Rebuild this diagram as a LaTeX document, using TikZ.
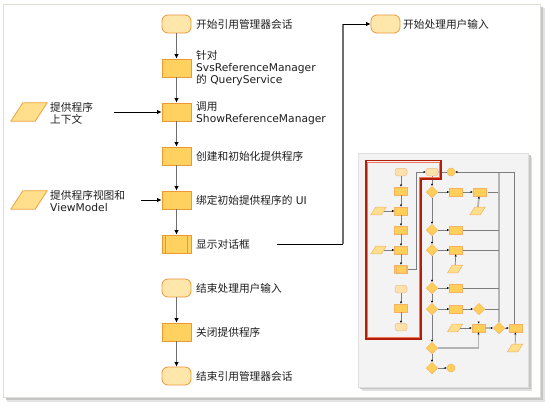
\documentclass[tikz,border=0pt]{standalone}
\usepackage{fontspec}
\setmainfont{DejaVu Sans}
\newfontfamily\zhfont{Noto Sans CJK SC}
\usetikzlibrary{arrows.meta,shapes.geometric,calc}

\definecolor{boxfill}{RGB}{255,210,95}
\definecolor{boxline}{RGB}{238,152,52}
\definecolor{termfill}{RGB}{255,231,172}
\definecolor{termline}{RGB}{236,150,60}
\definecolor{datafill}{RGB}{255,222,140}
\definecolor{dataline}{RGB}{238,162,62}
\definecolor{flowgray}{RGB}{110,110,110}
\definecolor{txtcol}{RGB}{30,30,30}
\definecolor{framecol}{RGB}{222,222,214}
\definecolor{panelfill}{RGB}{243,243,243}
\definecolor{selred}{RGB}{178,30,8}
\definecolor{selhalo}{RGB}{240,120,90}
\definecolor{tline}{RGB}{125,125,125}
\definecolor{tbar}{RGB}{180,180,180}
\definecolor{ttermfill}{RGB}{251,226,172}
\definecolor{ttermline}{RGB}{242,190,140}
\definecolor{tboxfill}{RGB}{255,207,90}
\definecolor{tboxline}{RGB}{245,178,100}

\newcommand\zh[1]{{\zhfont #1}}
% parallelogram drawn around a named body node: name, style, half slant
\newcommand\paragram[3]{%
  \draw[#2] ([xshift=-#3]#1.south west) -- ([xshift=-#3]#1.south east)
    -- ([xshift=#3]#1.north east) -- ([xshift=#3]#1.north west) -- cycle;}

\tikzset{
  proc/.style={draw=boxline, fill=boxfill, line width=0.8pt,
    minimum width=29pt, minimum height=18pt, inner sep=0pt},
  term/.style={draw=termline, fill=termfill, line width=0.8pt,
    rounded corners=6pt, minimum width=29pt, minimum height=18pt, inner sep=0pt},
  databody/.style={minimum width=24pt, minimum height=18pt, inner sep=0pt},
  datashape/.style={draw=dataline, fill=datafill, line width=0.8pt},
  txt/.style={anchor=west, align=left, inner sep=0pt, text=txtcol,
    font=\fontsize{10.7}{12}\selectfont},
  flow/.style={draw=flowgray, line width=1.4pt,
    -{Latex[length=4.5pt,width=4.5pt,color=black]}},
  feed/.style={draw=black, line width=0.7pt,
    -{Latex[length=4.5pt,width=4.5pt,color=black]}},
  % overview shapes
  tterm/.style={draw=ttermline, fill=ttermfill, line width=0.5pt,
    rounded corners=2.5pt, minimum width=12pt, minimum height=7.5pt, inner sep=0pt},
  tbox/.style={draw=tboxline, fill=tboxfill, line width=0.5pt,
    minimum width=13pt, minimum height=8pt, inner sep=0pt},
  tdia/.style={diamond, draw=tboxline, fill=tboxfill, line width=0.5pt,
    minimum width=11.5pt, minimum height=11.5pt, inner sep=0pt},
  tdatabody/.style={minimum width=10pt, minimum height=7.5pt, inner sep=0pt},
  tdatashape/.style={draw=tboxline, fill=datafill, line width=0.5pt},
  tcirc/.style={circle, draw=tboxline, fill=tboxfill, line width=0.5pt,
    minimum size=8pt, inner sep=0pt},
  tl/.style={draw=tline, line width=0.7pt},
  ta/.style={draw=tline, line width=0.7pt,
    -{Latex[length=2.2pt,width=2.2pt,color=black]}},
  tb/.style={draw=tbar, line width=1.8pt},
  tba/.style={draw=tbar, line width=1.8pt,
    -{Latex[length=2.2pt,width=2.2pt,color=black]}},
}

\begin{document}
\begin{tikzpicture}[x=1pt, y=-1pt]
\useasboundingbox (0,0) rectangle (551,408);

% page frame with drop shadow
\fill[gray!22] (7,8) rectangle (544.5,401.5);
\fill[gray!45] (5.5,6.5) rectangle (543,400);
\filldraw[fill=white, draw=framecol, line width=0.8pt] (3,4) rectangle (540,397);

% ---------- main flow ----------
\node[term] (s1) at (176.5,24)  {};
\node[proc] (p1) at (176.5,68)  {};
\node[proc] (p2) at (176.5,112) {};
\node[proc] (p3) at (176.5,156) {};
\node[proc] (p4) at (176.5,200) {};
\node[proc] (p5) at (176.5,244) {};
\draw[boxline, line width=0.8pt] ([xshift=4pt]p5.north west) -- ([xshift=4pt]p5.south west);
\draw[boxline, line width=0.8pt] ([xshift=-4pt]p5.north east) -- ([xshift=-4pt]p5.south east);
\node[term] (e1) at (176.5,288) {};
\node[proc] (p6) at (176.5,332) {};
\node[term] (e2) at (176.5,376) {};

\node[txt] (ls1) at (196,24)  {\zh{开始引用管理器会话}};
\node[txt] (lp1) at (196,68)  {\zh{针对}\\SvsReferenceManager\\\zh{的} QueryService};
\node[txt] (lp2) at (196,113) {\zh{调用}\\ShowReferenceManager};
\node[txt] (lp3) at (196,156) {\zh{创建和初始化提供程序}};
\node[txt] (lp4) at (196,200) {\zh{绑定初始提供程序的} UI};
\node[txt] (lp5) at (196,244) {\zh{显示对话框}};
\node[txt] (le1) at (196,288) {\zh{结束处理用户输入}};
\node[txt] (lp6) at (196,332) {\zh{关闭提供程序}};
\node[txt] (le2) at (196,376) {\zh{结束引用管理器会话}};

\draw[flow] (s1) -- (p1);
\draw[flow] (p1) -- (p2);
\draw[flow] (p2) -- (p3);
\draw[flow] (p3) -- (p4);
\draw[flow] (p4) -- (p5);
\draw[flow] (e1) -- (p6);
\draw[flow] (p6) -- (e2);

% inputs
\node[databody] (d1) at (29,112) {};
\paragram{d1}{datashape}{6pt}
\node[txt] (ld1) at (50,113) {\zh{提供程序}\\\zh{上下文}};
\coordinate (d1a) at (114,112);
\draw[feed] (d1a) -- (p2);

\node[databody] (d2) at (29,200) {};
\paragram{d2}{datashape}{6pt}
\node[txt] (ld2) at (50,201) {\zh{提供程序视图和}\\ViewModel};
\coordinate (d2a) at (141,200);
\draw[feed] (d2a) -- (p4);

% hand-off to user input handling
\node[term] (u1) at (385.5,24) {};
\node[txt] (lu1) at (403,24) {\zh{开始处理用户输入}};
\coordinate (h1) at (277,244);
\coordinate (h2) at (343,244);
\coordinate (h3) at (343,24);
\draw[black, line width=0.7pt] (h1) -- (h2);
\draw[flowgray, line width=1.4pt] (h2) -- (h3);
\draw[feed] (h3) -- (u1);

% ---------- overview panel ----------
\fill[gray!25] (361.5,156.5) rectangle (532,390.5);
\fill[gray!45] (360,155) rectangle (530.5,389);
\filldraw[fill=panelfill, draw=gray!25, line width=0.6pt] (358,153) rectangle (528,387);

% left column
\node[tterm] (a1) at (401,172) {};
\node[tbox]  (a2) at (401,191) {};
\node[tbox]  (a3) at (401,211) {};
\node[tbox]  (a4) at (401,230) {};
\node[tbox]  (a5) at (401,250) {};
\node[tbox]  (a6) at (401,269) {};
\draw[tboxline, line width=0.5pt] ([xshift=2pt]a6.north west) -- ([xshift=2pt]a6.south west);
\draw[tboxline, line width=0.5pt] ([xshift=-2pt]a6.north east) -- ([xshift=-2pt]a6.south east);
\node[tterm] (a7) at (401,289) {};
\node[tbox]  (a8) at (401,308) {};
\node[tterm] (a9) at (401,327) {};
\node[tdatabody] (ai1) at (378.5,211) {};
\paragram{ai1}{tdatashape}{2.5pt}
\node[tdatabody] (ai2) at (378.5,250) {};
\paragram{ai2}{tdatashape}{2.5pt}

\draw[ta] (a1) -- (a2);
\draw[ta] (a2) -- (a3);
\draw[ta] (a3) -- (a4);
\draw[ta] (a4) -- (a5);
\draw[ta] (a5) -- (a6);
\draw[ta] (a7) -- (a8);
\draw[ta] (a8) -- (a9);
\draw[ta] (ai1) -- (a3);
\draw[ta] (ai2) -- (a5);

% right column
\node[tterm] (b0) at (432,172) {};
\node[tcirc] (bc1) at (451,172) {};
\node[tdia] (b1) at (432,192) {};
\node[tdia] (b2) at (432,230) {};
\node[tdia] (b3) at (432,250) {};
\node[tdia] (b4) at (432,288) {};
\node[tdia] (b5) at (432,309) {};
\node[tdia] (b6) at (432,348) {};
\node[tdia] (b7) at (432,368) {};
\node[tcirc] (bc2) at (451,368) {};

\node[tbox] (r1) at (456,192) {};
\node[tbox] (r1b) at (479.5,192) {};
\node[tdatabody] (r1i) at (477.5,211) {};
\paragram{r1i}{tdatashape}{2.5pt}
\node[tbox] (r2) at (456,230) {};
\node[tbox] (r3) at (456,250) {};
\node[tdatabody] (r3i) at (455,269) {};
\paragram{r3i}{tdatashape}{2.5pt}
\node[tbox] (r4) at (456,288) {};
\node[tbox] (r5) at (456,309) {};
\node[tdia] (r5d) at (479,309) {};
\node[tdatabody] (r6i) at (455,328) {};
\paragram{r6i}{tdatashape}{2.5pt}
\node[tbox] (r6) at (478.5,328) {};
\node[tdia] (r6d) at (499,328) {};
\node[tbox] (r6b) at (515.5,328) {};
\node[tdatabody] (r6bi) at (515,348) {};
\paragram{r6bi}{tdatashape}{2.5pt}

% gathering bar and return path
\coordinate (bartop) at (499,172);
\draw[tb] (bartop) -- (r6d.north);
\coordinate (rtop) at (514,172);
\draw[tl] (r6b.north -| rtop) -- (rtop);
\draw[ta] (rtop) -- (bc1);
\draw[ta] (bc1) -- (b0);

% hand-off line from the left column
\coordinate (k1) at (416,269);
\coordinate (k2) at (416,172);
\draw[tl] (a6) -- (k1) -- (k2);
\draw[ta] (k2) -- (b0);

\draw[ta] (b0) -- (b1);
\draw[ta] (b1) -- (b2);
\draw[ta] (b2) -- (b3);
\draw[ta] (b3) -- (b4);
\draw[ta] (b4) -- (b5);
\draw[ta] (b5) -- (b6);
\draw[ta] (b6) -- (b7);
\draw[ta] (b7) -- (bc2);

\draw[ta] (b1) -- (r1);
\draw[ta] (r1) -- (r1b);
\draw[tba] (r1i) -- (r1b);
\coordinate (j1a) at (488,192);
\coordinate (j1b) at (497.5,192);
\draw[tl] (j1a) -- (j1b);
\draw[ta] (b2) -- (r2);
\draw[tl] (r2) -- (r2 -| bartop);
\draw[ta] (b3) -- (r3);
\draw[tl] (r3) -- (r3 -| bartop);
\draw[ta] (r3i) -- (r3);
\draw[ta] (b4) -- (r4);
\draw[tl] (r4) -- (r4 -| bartop);
\draw[ta] (b5) -- (r5);
\draw[ta] (r5) -- (r5d);
\draw[tl] (r5d) -- (r5d -| bartop);
\draw[ta] (r6i) -- (r6);
\draw[draw=white, line width=0.7pt, -{Latex[length=2.2pt,width=2.2pt,color=black]}] (r5d) -- (r6);
\draw[tba] (r6) -- (r6d);
\draw[ta] (r6d) -- (r6b);
\draw[ta] (r6bi) -- (r6b);
\coordinate (m1) at (478.5,348);
\draw[tba] (b6) -- (m1) -- (r6.south);

% selection outline
\draw[selred, line width=1.7pt, line join=miter]
  (366,160.5) -- (441,160.5) -- (441,179) -- (421,179) -- (421,339) -- (366,339) -- cycle;
\draw[selhalo, line width=0.6pt]
  (367.7,162.2) -- (439.3,162.2) -- (439.3,177.3) -- (419.3,177.3) -- (419.3,337.3) -- (367.7,337.3) -- cycle;
\end{tikzpicture}
\end{document}
